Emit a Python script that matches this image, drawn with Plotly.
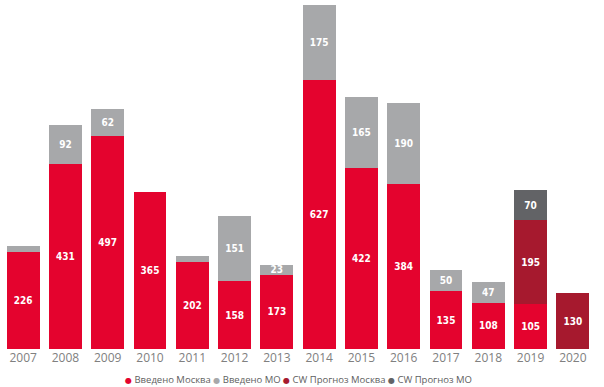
import plotly.graph_objects as go

years = ["2007", "2008", "2009", "2010", "2011", "2012", "2013", "2014",
         "2015", "2016", "2017", "2018", "2019", "2020"]
moscow = [226, 431, 497, 365, 202, 158, 173, 627, 422, 384, 135, 108, 105, 0]
mo = [13, 92, 62, 0, 15, 151, 23, 175, 165, 190, 50, 47, 0, 0]
cw_moscow = [0, 0, 0, 0, 0, 0, 0, 0, 0, 0, 0, 0, 195, 130]
cw_mo = [0, 0, 0, 0, 0, 0, 0, 0, 0, 0, 0, 0, 70, 0]

names = ["Введено Москва", "Введено МО", "CW Прогноз Москва", "CW Прогноз МО"]
colors = ["#E4032E", "#A7A8AA", "#A6192E", "#626366"]
series = [moscow, mo, cw_moscow, cw_mo]

MIN_LABEL = 20

fig = go.Figure()
for name, color, vals in zip(names, colors, series):
    fig.add_trace(go.Bar(
        x=years, y=vals, name=name, marker=dict(color=color, line=dict(width=0)),
        text=[str(v) if v >= MIN_LABEL else "" for v in vals],
        textposition="inside", insidetextanchor="middle", constraintext="none",
        textangle=0,
        textfont=dict(family="DejaVu Sans Condensed, DejaVu Sans", size=10, color="white", weight="bold"),
        showlegend=False, hoverinfo="skip",
    ))

legend_text = " ".join(
    f'<span style="color:{c};font-size:8px">●</span> {n}' for n, c in zip(names, colors)
)
fig.add_annotation(
    text=legend_text, xref="paper", yref="paper", x=0.5, y=-0.088,
    xanchor="center", yanchor="middle", showarrow=False,
    font=dict(family="Open Sans, DejaVu Sans", size=9.5, color="#606060"),
)

fig.update_layout(
    barmode="stack", bargap=0.22,
    width=604, height=387,
    margin=dict(l=2, r=10, t=4, b=38, autoexpand=False),
    plot_bgcolor="white", paper_bgcolor="white",
    font=dict(family="Open Sans, DejaVu Sans", color="#7f7f7f"),
    xaxis=dict(showgrid=False, showline=False, ticks="", automargin=False,
               tickfont=dict(size=12, color="#808080")),
    yaxis=dict(visible=False, range=[0, 804], automargin=False),
    showlegend=False,
)

fig.write_html("out.html", config={"displayModeBar": False},
               post_script="document.body.style.margin='0';")
